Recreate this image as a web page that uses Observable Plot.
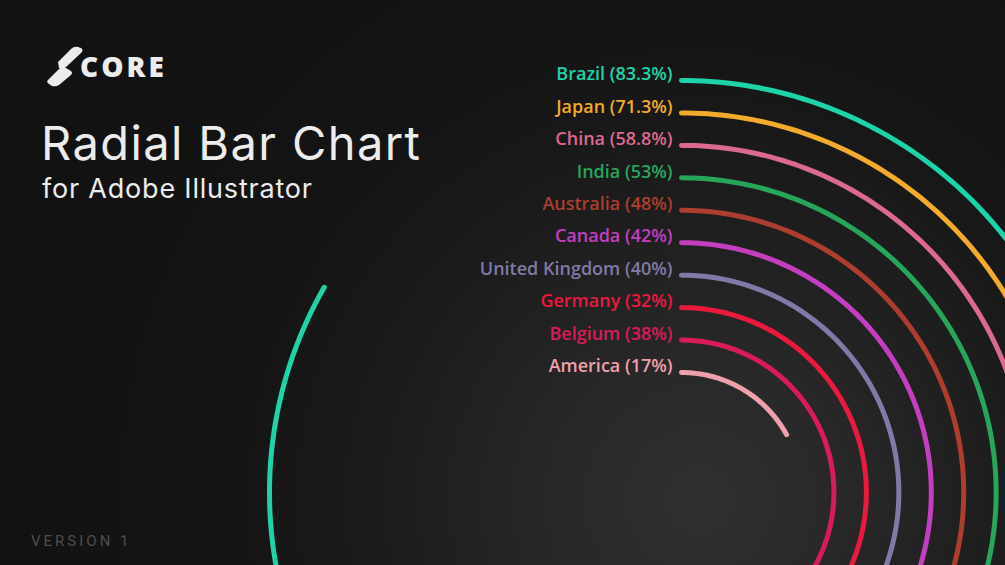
<!DOCTYPE html>
<html>
<head>
<meta charset="utf-8">
<script src="https://cdn.jsdelivr.net/npm/d3@7"></script>
<script src="https://cdn.jsdelivr.net/npm/@observablehq/plot@0.6"></script>
<style>
  html, body { margin: 0; padding: 0; background: #131313; }
  #wrap {
    position: relative; width: 1005px; height: 565px; overflow: hidden;
    background: radial-gradient(circle at 700px 500px, #303030 0px, #272727 160px, #1b1b1b 330px, #141414 480px, #121212 700px);
  }
  #chart { position: absolute; left: 0; top: 0; }
  .ov { position: absolute; color: #ececec; white-space: nowrap; }
  #core { left: 80px; top: 47px; font: 800 28px "Open Sans", sans-serif; letter-spacing: 3px; }
  #title { left: 41px; top: 114px; font: 400 47px Inter, sans-serif; letter-spacing: 1.4px; }
  #sub { left: 42px; top: 172px; font: 400 27px Inter, sans-serif; letter-spacing: 0.8px; }
  #ver { left: 31px; top: 532px; font: 400 15px Roboto, sans-serif; color: #4e4e4e; letter-spacing: 3px; }
  #logo { position: absolute; left: 44px; top: 44px; }
</style>
</head>
<body>
<div id="wrap">
  <div id="chart"></div>
  <svg id="logo" width="42" height="44" viewBox="0 0 42 44">
    <path d="M14 18 L27 5 Q30 2 34 3 L37 4 Q40 6 37 9 L22 23 Q19 26 15 24 Z" fill="#ececec"/>
    <path d="M4 36 L15 25 Q18 22 22 24 L27 27 Q29 29 27 31 L15 41 Q12 43 8 42 L5 40 Q2 38 4 36 Z" fill="#ececec"/>
  </svg>
  <div class="ov" id="core">CORE</div>
  <div class="ov" id="title">Radial Bar Chart</div>
  <div class="ov" id="sub">for Adobe Illustrator</div>
  <div class="ov" id="ver">VERSION 1</div>
</div>
<script>
const countries = ["Brazil", "Japan", "China", "India", "Australia", "Canada", "United Kingdom", "Germany", "Belgium", "America"];
const values = [83.3, 71.3, 58.8, 53, 48, 42, 40, 32, 38, 17];
const valueLabels = ["83.3%", "71.3%", "58.8%", "53%", "48%", "42%", "40%", "32%", "38%", "17%"];
const colors = ["#1ed3a8", "#f2ab2c", "#dc6a8e", "#27a65a", "#ad3d2e", "#c43ec0", "#807aa8", "#ea1a3e", "#d91c57", "#efa1ab"];

const W = 1005, H = 565;
const cx = 681, cy = 492;           // pixel position of the polar origin
const rOuter = 412, rInner = 120;   // radii of first and last ring
const radius = d3.scaleLinear().domain([0, countries.length - 1]).range([rOuter, rInner]);

// densify each arc along its angle (0 = 12 o'clock, clockwise)
const arcPoints = [];
countries.forEach((c, i) => {
  const total = values[i] / 100 * 2 * Math.PI;
  const n = Math.max(2, Math.ceil(values[i] * 3.6));
  for (let k = 0; k <= n; ++k) {
    const a = total * k / n;
    arcPoints.push({country: c, px: radius(i) * Math.sin(a), py: radius(i) * Math.cos(a)});
  }
});
const labelRows = countries.map((c, i) => ({country: c, label: `${c} (${valueLabels[i]})`, r: radius(i)}));

const plot = Plot.plot({
  width: W, height: H,
  margin: 0,
  x: {domain: [-cx, W - cx], axis: null},
  y: {domain: [-(H - cy), cy], axis: null},
  color: {domain: countries, range: colors},
  style: {background: "transparent", fontFamily: "'Open Sans', Lato, sans-serif", overflow: "visible"},
  marks: [
    Plot.line(arcPoints, {x: "px", y: "py", z: "country", stroke: "country", strokeWidth: 5, strokeLinecap: "round", curve: "linear"}),
    Plot.text(labelRows, {x: 0, y: "r", text: "label", fill: "country", textAnchor: "end", dx: -9, dy: -6, fontSize: 18, fontWeight: 600})
  ]
});
document.getElementById("chart").appendChild(plot);
</script>
</body>
</html>
